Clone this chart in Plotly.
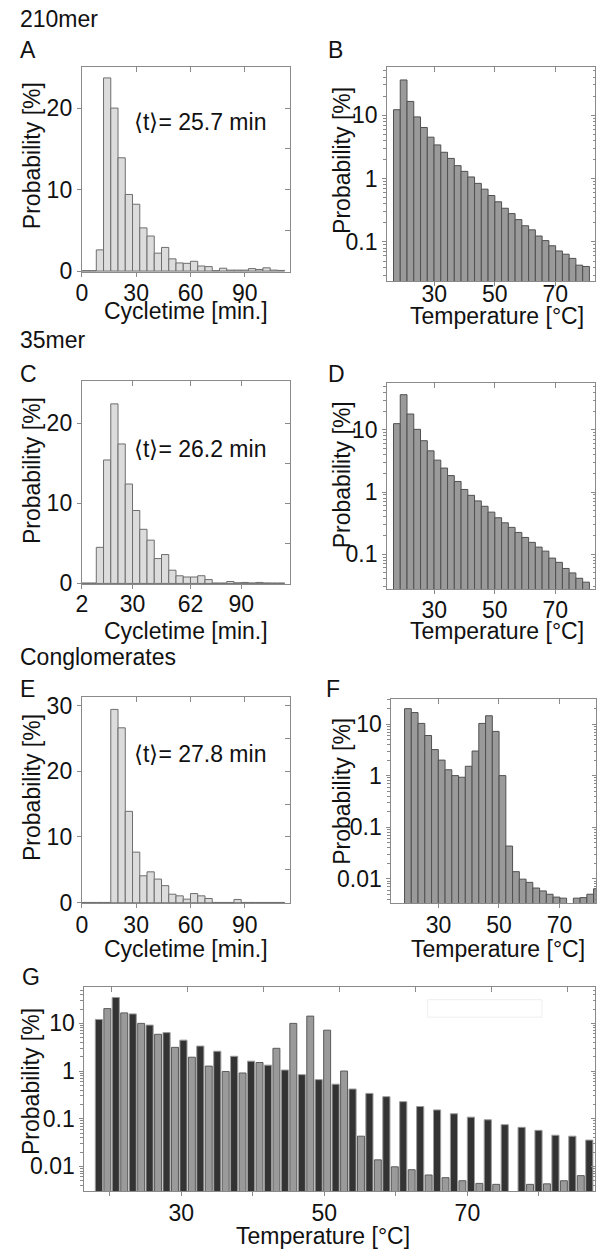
import plotly.graph_objects as go

W, H = 597, 1260

# ------------------------- data -------------------------
cyc_bins_A = [2, 6, 10, 14, 18, 22, 26, 30, 34, 38, 42, 46, 50, 54,
              58, 62, 66, 70, 74, 78, 82, 86, 90, 94, 98, 102, 106, 110]
cyc_bins_C = [4, 8, 12, 16, 20, 24, 28, 32, 36, 40, 44, 48, 52, 56,
              60, 64, 68, 72, 76, 80, 84, 88, 92, 96, 100, 104, 108, 112]
prob_cyc_210 = [0.05, 0.05, 2.6, 23.7, 20.0, 13.9, 9.4, 8.2, 5.3, 4.3, 2.2, 2.9, 1.5, 1.0,
                0.95, 1.2, 0.62, 0.55, 0.05, 0.35, 0.12, 0.12, 0.12, 0.3, 0.2, 0.4, 0.12, 0.08]
prob_cyc_35 = [0.05, 0.05, 4.5, 15.4, 22.4, 17.4, 12.4, 9.1, 6.75, 5.4, 3.1, 3.6, 1.65, 0.95,
               0.8, 0.8, 0.96, 0.48, 0.05, 0.05, 0.24, 0.08, 0.12, 0.06, 0.12, 0.06, 0.05, 0.05]
prob_cyc_cong = [0.05, 0.05, 0.05, 0.05, 29.4, 26.6, 13.9, 7.7, 4.1, 4.7, 3.6, 2.6, 1.3, 1.05,
                 0.55, 1.4, 1.05, 0.65, 0.05, 0.05, 0.05, 0.5, 0.05, 0.05, 0.05, 0.05, 0.05, 0.05]
cyc_ticks_A = [0, 30, 60, 90]
cyc_ticks_C = [2, 30, 62, 90]
mean_cycle = ["25.7", "26.2", "27.8"]

temp_bins_BD = [17.65, 19.88, 22.12, 24.35, 26.59, 28.82, 31.05, 33.29, 35.52, 37.76,
                39.99, 42.22, 44.46, 46.69, 48.93, 51.16, 53.39, 55.63, 57.86, 60.10,
                62.33, 64.56, 66.80, 69.03, 71.27, 73.50, 75.73, 77.97, 80.20]
temp_bins_F = [19.87, 22.10, 24.34, 26.57, 28.81, 31.04, 33.27, 35.51, 37.74, 39.98,
               42.21, 44.44, 46.68, 48.91, 51.15, 53.38, 55.61, 57.85, 60.08, 62.32,
               64.55, 66.78, 69.02, 71.25, 73.49, 75.72, 77.95, 80.19, 82.42]
prob_T_210 = [12.2, 36, 16.5, 9.4, 6.4, 4.5, 3.4, 2.6, 2.08, 1.6, 1.3, 1.06, 0.84, 0.68,
              0.54, 0.43, 0.34, 0.28, 0.225, 0.18, 0.155, 0.124, 0.105, 0.087, 0.072,
              0.064, 0.055, 0.043, 0.041]
prob_T_35 = [12.6, 36.8, 18, 10.2, 6.7, 4.6, 3.26, 2.43, 1.84, 1.48, 1.1, 0.885, 0.72, 0.59,
             0.475, 0.386, 0.32, 0.27, 0.224, 0.186, 0.155, 0.13, 0.112, 0.0865, 0.074,
             0.059, 0.050, 0.041, 0.0355]
prob_T_cong = [19.9, 16.7, 10.3, 6.0, 3.2, 2.0, 1.3, 1.0, 0.93, 1.52, 3.0, 10.3, 14.5, 7.2,
               1.0, 0.043, 0.0137, 0.0098, 0.0085, 0.0066, 0.0058, 0.005, 0.0044, 0.0042,
               None, 0.0042, 0.0043, 0.005, 0.0064]

temp_G_210 = [18.48, 20.84, 23.21, 25.57, 27.94, 30.30, 32.66, 35.03, 37.39, 39.76,
              42.12, 44.48, 46.85, 49.21, 51.58, 53.94, 56.30, 58.67, 61.03, 63.40,
              65.76, 68.12, 70.49, 72.85, 75.22, 77.58, 79.94, 82.31, 84.67, 87.04]
temp_G_cong = [19.66, 22.02, 24.39, 26.75, 29.12, 31.48, 33.84, 36.21, 38.57, 40.94,
               43.30, 45.66, 48.03, 50.39, 52.76, 55.12, 57.48, 59.85, 62.21, 64.58,
               66.94, 69.30, 71.67, 74.03, 76.40, 78.76, 81.12, 83.49, 85.85]
probG_210 = [12.1, 35, 15.8, 9.2, 6.4, 4.45, 3.34, 2.6, 2.04, 1.61, 1.33, 1.05, 0.84, 0.66,
             0.53, 0.42, 0.34, 0.29, 0.228, 0.18, 0.153, 0.127, 0.108, 0.095, 0.075, 0.066,
             0.057, 0.045, 0.043, 0.0356]
probG_cong = [20.4, 16.6, 10, 5.9, 3.14, 1.95, 1.27, 0.98, 0.91, 1.51, 3.0, 10, 14.2, 7.2,
              1.0, 0.043, 0.0137, 0.0098, 0.0085, 0.0066, 0.0058, 0.005, 0.0044, 0.0042,
              None, 0.0042, 0.0043, 0.005, 0.0064]
temp_ticks = [30, 50, 70]
temp_ticks_G = [20, 30, 40, 50, 60, 70, 80]
temp_ticktext_G = ["", "30", "", "50", "", "70", ""]
group_titles = ["210mer", "35mer", "Conglomerates"]
panel_letters = ["A", "B", "C", "D", "E", "F", "G"]

# ------------------------- style -------------------------
FONT = "Liberation Sans, Arial, Helvetica, sans-serif"
FS = 23
AXC = "#8a8a8a"
TXT = "#111111"


def px_x(a, b):
    return [a / W, min(b / W, 1.0)]


def px_y(top, bottom):
    return [1 - bottom / H, 1 - top / H]


def log_minor(lo_exp, hi_exp):
    vals = []
    for e in range(lo_exp, hi_exp + 1):
        for k in range(2, 10):
            vals.append(k * 10.0 ** e)
    return vals


base_ax = dict(showline=True, linecolor=AXC, linewidth=1, mirror=True, ticks="outside",
               tickcolor=AXC, ticklen=4, tickwidth=1, showgrid=False, zeroline=False,
               tickfont=dict(family=FONT, size=FS, color=TXT), fixedrange=True,
               tickmode="array")

fig = go.Figure()
layout = {}

# panel geometry (pixels): x-left, x-right, y-top, y-bottom
panels = [
    dict(kind="lin", x=(76.7, 287.3), y=(62.7, 270.7), xr=[0, 114.9], yr=[-0.12, 25.06],
         xt=cyc_ticks_A, yt=[0, 10, 20], yt_in=[5, 10, 15, 20], xso=-4),
    dict(kind="log", x=(385.7, 596), y=(62.7, 280), xr=[14.44, 83.17], yr=[-1.62, 1.763],
         xt=temp_ticks, yt=[0.1, 1, 10], xso=-12),
    dict(kind="lin", x=(76.7, 287.3), y=(381, 587.3), xr=[2, 116.9], yr=[-0.12, 25.27],
         xt=cyc_ticks_C, yt=[0, 10, 20], yt_in=[5, 10, 15, 20], xso=-5),
    dict(kind="log", x=(385.7, 596), y=(383.3, 592), xr=[14.44, 83.17], yr=[-1.56, 1.752],
         xt=temp_ticks, yt=[0.1, 1, 10], xso=-4),
    dict(kind="lin", x=(76.7, 287.3), y=(701.7, 910.7), xr=[0, 114.9], yr=[-0.1, 31.25],
         xt=cyc_ticks_A, yt=[0, 10, 20, 30], yt_in=[5, 10, 15, 20, 25, 30], xso=-3),
    dict(kind="log", x=(390, 597), y=(703.3, 910.7), xr=[14.41, 82.1], yr=[-2.479, 1.49],
         xt=temp_ticks, yt=[0.01, 0.1, 1, 10], xso=-3),
    dict(kind="log", x=(79.3, 596), y=(995, 1202.3), xr=[16.45, 87.84], yr=[-2.518, 1.772],
         xt=temp_ticks_G, xtt=temp_ticktext_G, yt=[0.01, 0.1, 1, 10],
         top_range=[16.44, 83.63], xso=-3),
]

series = [
    [(cyc_bins_A, prob_cyc_210, 4, "#dcdcdc", "#6e6e6e")],
    [(temp_bins_BD, prob_T_210, 2.234, "#9a9a9a", "#505050")],
    [(cyc_bins_C, prob_cyc_35, 4, "#dcdcdc", "#6e6e6e")],
    [(temp_bins_BD, prob_T_35, 2.234, "#9a9a9a", "#505050")],
    [(cyc_bins_A, prob_cyc_cong, 4, "#dcdcdc", "#6e6e6e")],
    [(temp_bins_F, prob_T_cong, 2.234, "#9a9a9a", "#505050")],
    [(temp_G_210, probG_210, 1.0, "#333333", "#9a9a9a"),
     (temp_G_cong, probG_cong, 0.97, "#9a9a9a", "#5a5a5a")],
]

N = len(panels)
for i, p in enumerate(panels):
    k = i + 1
    xs = "" if k == 1 else str(k)
    ko = k + N
    xname, yname = f"x{xs}", f"y{xs}"
    is_log = p["kind"] == "log"

    xa = dict(base_ax, domain=px_x(*p["x"]), anchor=yname, range=p["xr"],
              tickvals=p["xt"], ticktext=p.get("xtt", [str(v) for v in p["xt"]]),
              ticklabelstandoff=p["xso"])
    if is_log:
        lo = int(p["yr"][0]) - 1
        hi = int(p["yr"][1]) + 1
        ya = dict(base_ax, domain=px_y(*p["y"]), anchor=xname, type="log", range=p["yr"],
                  tickvals=p["yt"], ticktext=[("%g" % v) for v in p["yt"]],
                  minor=dict(ticks="outside", ticklen=3, tickcolor=AXC, tickmode="array",
                             tickvals=log_minor(lo, hi)))
    else:
        ya = dict(base_ax, domain=px_y(*p["y"]), anchor=xname, range=p["yr"],
                  tickvals=p["yt"], ticktext=[str(v) for v in p["yt"]])
    layout[f"xaxis{xs}"] = xa
    layout[f"yaxis{xs}"] = ya

    # inside ticks on top and right (overlay axes)
    top = dict(overlaying=xname, anchor=yname, side="top", range=p.get("top_range", p["xr"]),
               tickmode="array", tickvals=p["xt"], ticks="inside", ticklen=5, tickcolor=AXC,
               showticklabels=False, showline=False, showgrid=False, zeroline=False,
               fixedrange=True)
    if is_log:
        right = dict(overlaying=yname, anchor=xname, side="right", type="log", range=p["yr"],
                     tickmode="array", tickvals=p["yt"], ticks="inside", ticklen=4,
                     tickcolor=AXC, showticklabels=False, showline=False, showgrid=False,
                     zeroline=False, fixedrange=True,
                     minor=dict(ticks="inside", ticklen=2.5, tickcolor=AXC, tickmode="array",
                                tickvals=log_minor(int(p["yr"][0]) - 1, int(p["yr"][1]) + 1)))
    else:
        right = dict(overlaying=yname, anchor=xname, side="right", range=p["yr"],
                     tickmode="array", tickvals=p["yt_in"], ticks="inside", ticklen=5,
                     tickcolor=AXC, showticklabels=False, showline=False, showgrid=False,
                     zeroline=False, fixedrange=True)
    layout[f"xaxis{ko}"] = top
    layout[f"yaxis{ko}"] = right
    fig.add_trace(go.Scatter(x=[None], y=[None], xaxis=f"x{ko}", yaxis=f"y{ko}",
                             showlegend=False, hoverinfo="skip", mode="markers"))

    for (bx, by, bw, fill, edge) in series[i]:
        fig.add_trace(go.Bar(x=bx, y=by, width=bw, xaxis=xname, yaxis=yname,
                             marker=dict(color=fill, line=dict(color=edge, width=1)),
                             showlegend=False, hoverinfo="skip"))


# ------------------------- text -------------------------
def ann(text, x, y, xanchor="left", angle=0, size=FS):
    return dict(text=text, x=x / W, y=1 - y / H, xref="paper", yref="paper",
                xanchor=xanchor, yanchor="middle", showarrow=False, textangle=angle,
                font=dict(family=FONT, size=size, color=TXT))


anns = []
group_pos = [(12, 14), (12, 340), (12, 661)]
for t, (x, y) in zip(group_titles, group_pos):
    anns.append(ann(t, x, y))
letter_pos = [(12, 46), (324, 46), (12, 374), (324, 374), (12, 693), (322, 693), (14, 985)]
for t, (x, y) in zip(panel_letters, letter_pos):
    anns.append(ann(t, x, y))
mean_pos = [(127, 119), (127, 450), (127, 759)]
for t, (x, y) in zip(mean_cycle, mean_pos):
    anns.append(ann("\u27e8t\u27e9= " + t + " min", x, y))
xtitle_pos = [("Cycletime [min.]", 181.7, 310), ("Temperature [°C]", 496.7, 315),
              ("Cycletime [min.]", 181.7, 635), ("Temperature [°C]", 496.7, 635),
              ("Cycletime [min.]", 181.7, 957), ("Temperature [°C]", 498, 957),
              ("Temperature [°C]", 320.5, 1248)]
for t, x, y in xtitle_pos:
    anns.append(ann(t, x, y, xanchor="center"))
ytitle_pos = [(27, 152.5), (340, 158), (27, 471.7), (340, 476.7), (27, 793), (340, 797.5),
              (26, 1091)]
for x, y in ytitle_pos:
    anns.append(ann("Probability [%]", x, y, xanchor="center", angle=-90))

layout.update(
    width=W, height=H, margin=dict(l=0, r=0, t=0, b=0, pad=0),
    paper_bgcolor="white", plot_bgcolor="white", barmode="overlay",
    showlegend=False, annotations=anns,
    font=dict(family=FONT, size=FS, color=TXT),
    shapes=[dict(type="rect", xref="paper", yref="paper",
                 x0=426.7 / W, x1=542.3 / W, y0=1 - 1026 / H, y1=1 - 1008.3 / H,
                 line=dict(color="#eeeeee", width=1), fillcolor="rgba(0,0,0,0)")],
)
fig.update_layout(layout)
fig.write_html("out.html", config={"displayModeBar": False, "staticPlot": True},
               post_script="document.body.style.margin='0px';"
                           "document.body.style.overflow='hidden';")
